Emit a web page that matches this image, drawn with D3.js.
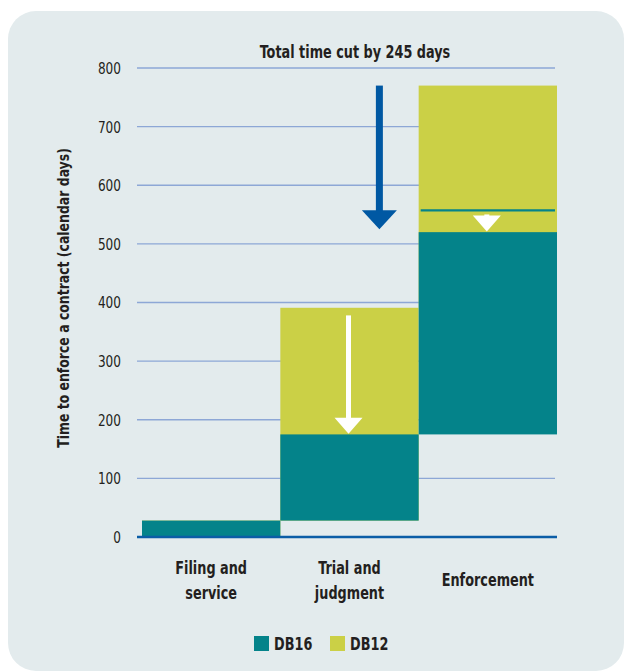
<!DOCTYPE html>
<html>
<head>
<meta charset="utf-8">
<script src="https://cdn.jsdelivr.net/npm/d3@7"></script>
<style>
  html, body { margin: 0; padding: 0; background: #ffffff; }
  svg { display: block; }
  text { font-family: "DejaVu Sans Condensed", "Liberation Sans Narrow", sans-serif; fill: #231F20; }
</style>
</head>
<body>
<svg id="chart" width="628" height="671"></svg>
<script>
// ---- data ----
const categories = ["Filing and service", "Trial and judgment", "Enforcement"];
const categoryLines = [["Filing and", "service"], ["Trial and", "judgment"], ["Enforcement"]];
const db12Start = [0, 28, 391];
const db12End = [28, 391, 770];
const db16Start = [0, 28, 175];
const db16End = [28, 175, 520];
const markerValues = [null, null, 557];          // teal reference line inside the Enforcement bar
const arrowFrom = [null, 378, 557];              // white arrows (DB12 -> DB16)
const arrowTo = [null, 176, 521];
const totalArrow = { from: 770, to: 525 };       // total time cut by 245 days
const yTicks = [0, 100, 200, 300, 400, 500, 600, 700, 800];
const seriesNames = ["DB16", "DB12"];
const title = "Total time cut by 245 days";
const yTitle = "Time to enforce a contract (calendar days)";

// ---- styles ----
const C16 = "#04838A", C12 = "#CBD046", GRID = "#8DA7D6", BASE = "#0B5DA6", ARROW = "#0058A3", BG = "#E3EBED";
const SX = 0.84; // horizontal condensation to mimic a condensed face

const svg = d3.select("#chart");

svg.append("rect").attr("x", 8).attr("y", 11).attr("width", 616).attr("height", 660)
  .attr("rx", 28).attr("ry", 28).attr("fill", BG);

const x = d3.scaleBand().domain(categories).range([142, 557]).padding(0);
const y = d3.scaleLinear().domain([0, 800]).range([537, 68]);

// gridlines
svg.append("g").selectAll("line").data(yTicks.filter(d => d > 0)).join("line")
  .attr("x1", 137).attr("x2", 555)
  .attr("y1", d => y(d)).attr("y2", d => y(d))
  .attr("stroke", GRID).attr("stroke-width", 1.3);

// y axis labels via d3 axis
const yAxis = d3.axisLeft(y).tickValues(yTicks).tickSize(0).tickPadding(0).tickFormat(d3.format("d"));
const gy = svg.append("g").attr("transform", "translate(121,0)").call(yAxis);
gy.select(".domain").remove();
gy.selectAll(".tick text").attr("font-size", 16).attr("fill", "#231F20").attr("x", 0).attr("dy", "0.34em")
  .attr("transform", `scale(${SX},1)`)
  .style("font-family", '"DejaVu Sans Condensed", sans-serif');

// DB12 bars
svg.append("g").selectAll("rect").data(categories).join("rect")
  .attr("x", d => x(d)).attr("width", x.bandwidth())
  .attr("y", (d, i) => y(db12End[i]))
  .attr("height", (d, i) => y(db12Start[i]) - y(db12End[i]))
  .attr("fill", C12);

// DB16 bars
svg.append("g").selectAll("rect").data(categories).join("rect")
  .attr("x", d => x(d)).attr("width", x.bandwidth())
  .attr("y", (d, i) => y(db16End[i]))
  .attr("height", (d, i) => y(db16Start[i]) - y(db16End[i]))
  .attr("fill", C16);

// marker line
svg.append("g").selectAll("line").data(categories.filter((d, i) => markerValues[i] != null)).join("line")
  .attr("x1", d => x(d) + 2).attr("x2", d => x(d) + x.bandwidth() - 2)
  .attr("y1", d => y(markerValues[categories.indexOf(d)]))
  .attr("y2", d => y(markerValues[categories.indexOf(d)]))
  .attr("stroke", C16).attr("stroke-width", 2.2);

// arrow helper
function arrow(g, cx, yTop, yTip, shaftW, headW, headH, color) {
  g.append("rect").attr("x", cx - shaftW / 2).attr("y", yTop)
    .attr("width", shaftW).attr("height", Math.max(0, yTip - headH - yTop + 1)).attr("fill", color);
  g.append("path").attr("d", `M${cx - headW / 2},${yTip - headH} L${cx + headW / 2},${yTip - headH} L${cx},${yTip} Z`)
    .attr("fill", color);
}
const ga = svg.append("g");
categories.forEach((c, i) => {
  if (arrowFrom[i] == null) return;
  const cx = x(c) + x.bandwidth() / 2 - 1;
  arrow(ga, cx, y(arrowFrom[i]) + (i === 2 ? 4 : 0), y(arrowTo[i]), 5, 28, 16, "#ffffff");
});
// total arrow
arrow(ga, x("Trial and judgment") + x.bandwidth() * 0.716, y(totalArrow.from), y(totalArrow.to), 7, 35, 19, ARROW);

// baseline
svg.append("line").attr("x1", 137).attr("x2", 557).attr("y1", y(0)).attr("y2", y(0))
  .attr("stroke", BASE).attr("stroke-width", 2.5);

// condensed text helper
function ctext(g, tx, ty, str, size, anchor, rotate) {
  return g.append("text")
    .attr("transform", `translate(${tx},${ty})${rotate ? " rotate(-90)" : ""} scale(${SX},1)`)
    .attr("text-anchor", anchor).attr("font-size", size).attr("font-weight", "bold").text(str);
}

// title
ctext(svg, 355, 58, title, 17, "middle");

// y title
ctext(svg, 69, 298, yTitle, 16.5, "middle", true);

// category labels
const gc = svg.append("g");
categories.forEach((c, i) => {
  const lines = categoryLines[i];
  const cx = x(c) + x.bandwidth() / 2;
  const startY = lines.length === 1 ? 586 : 574;
  lines.forEach((l, k) => ctext(gc, cx, startY + k * 25, l, 17, "middle"));
});

// legend
const legColors = [C16, C12];
const lg = svg.append("g");
seriesNames.forEach((s, i) => {
  const lx = 254 + i * 76;
  lg.append("rect").attr("x", lx).attr("y", 636).attr("width", 15).attr("height", 15).attr("fill", legColors[i]);
  ctext(lg, lx + 20, 649.5, s, 17, "start");
});
</script>
</body>
</html>
